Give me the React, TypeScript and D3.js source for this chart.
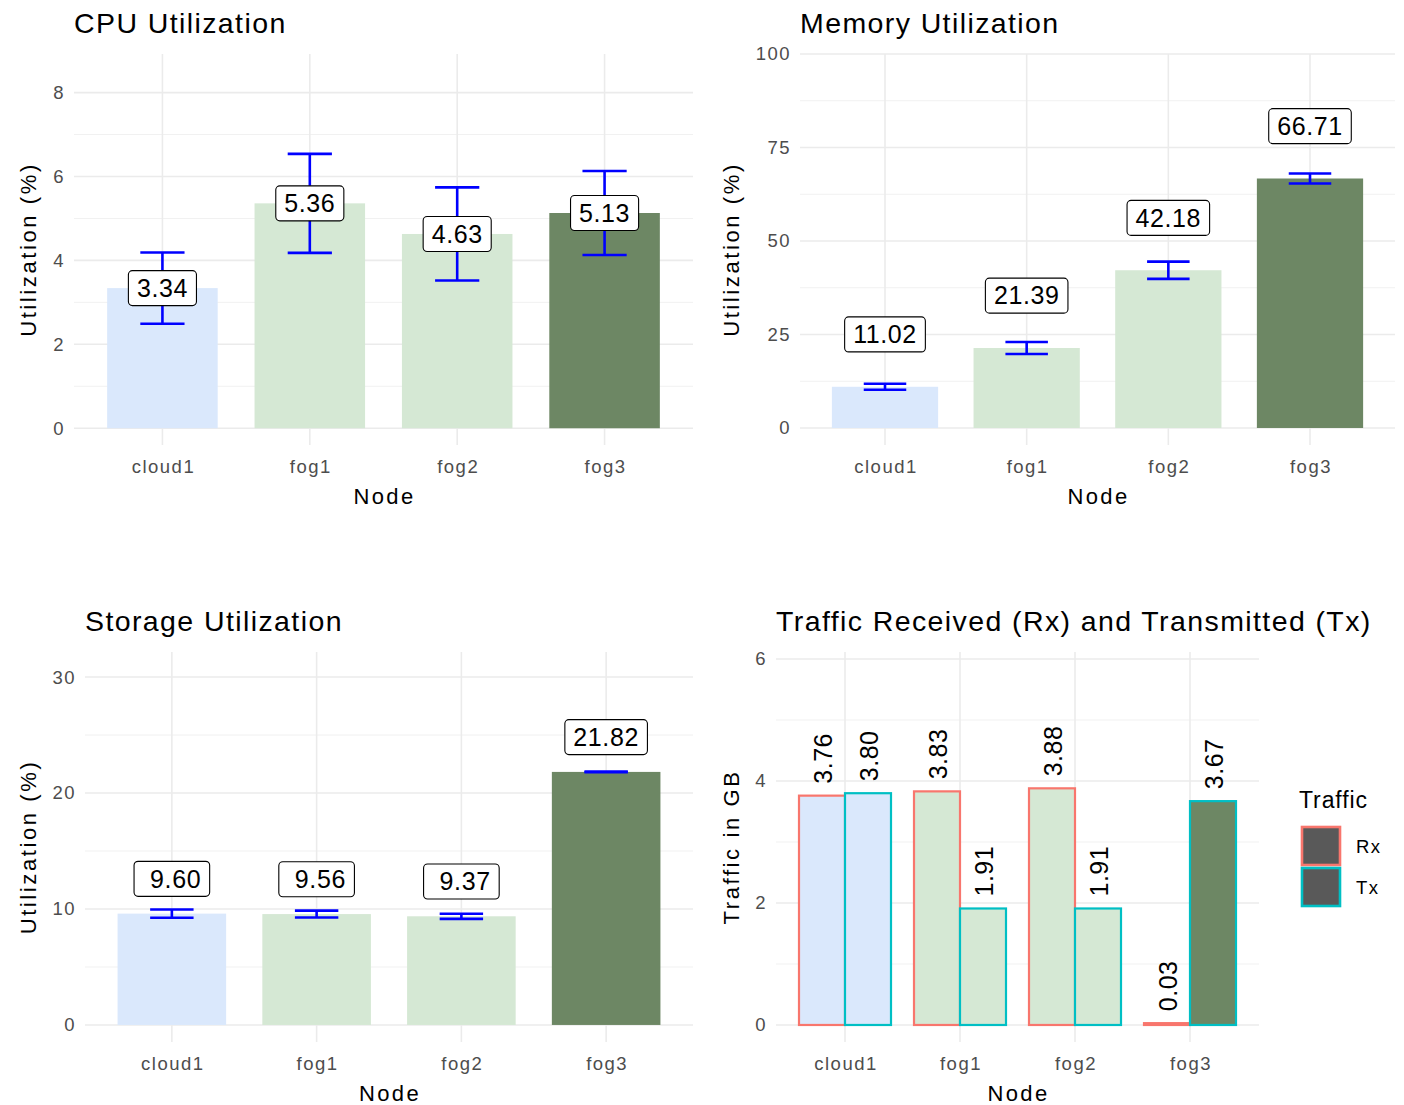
import React, { useEffect, useRef } from 'react';
import * as d3 from 'd3';

// categories and colours
const nodes = ['cloud1', 'fog1', 'fog2', 'fog3'];
const nodeFill = ['#dae8fc', '#d5e8d4', '#d5e8d4', '#6d8764'];

// CPU utilization (%) mean and standard deviation
const cpuMean = [3.34, 5.36, 4.63, 5.13];
const cpuSd = [0.85, 1.18, 1.11, 1.0];
// memory utilization (%)
const memMean = [11.02, 21.39, 42.18, 66.71];
const memSd = [0.8, 1.6, 2.3, 1.35];
// storage utilization (%)
const stoMean = [9.6, 9.56, 9.37, 21.82];
const stoSd = [0.35, 0.3, 0.22, 0.03];
// traffic in GB
const rxGB = [3.76, 3.83, 3.88, 0.03];
const txGB = [3.8, 1.91, 1.91, 3.67];
const trafficKeys = ['Rx', 'Tx'];
const trafficStroke = ['#F8766D', '#00BFC4'];

// tick labels
const cpuTicks = [0, 2, 4, 6, 8];
const memTicks = [0, 25, 50, 75, 100];
const stoTicks = [0, 10, 20, 30];
const trafficTicks = [0, 2, 4, 6];

const FONT = '"Liberation Sans", Arial, sans-serif';
const GRID = '#ebebeb';

type Panel = {
  left: number; right: number; top: number; bottom: number;
  domain: [number, number]; ticks: number[];
  title: string; yTitle: string; yTitleX: number;
};

function addText(g: any, x: number, y: number, s: string, size: number, opts: any = {}) {
  const t = g.append('text')
    .attr('x', x)
    .attr('y', y)
    .attr('dy', '0.35em')
    .attr('font-family', FONT)
    .attr('font-size', size)
    .attr('letter-spacing', opts.ls ?? 0)
    .attr('fill', opts.fill ?? '#000')
    .attr('text-anchor', opts.anchor ?? 'start')
    .style('white-space', 'pre')
    .text(s);
  if (opts.rotate) t.attr('transform', `rotate(-90, ${x}, ${y})`);
  return t;
}

function drawFrame(svg: any, p: Panel) {
  const x = d3.scaleBand<string>().domain(nodes).range([p.left, p.right]).paddingInner(0).paddingOuter(0.1);
  const y = d3.scaleLinear().domain(p.domain).range([p.bottom, p.top]);
  const g = svg.append('g');

  // minor grid at midpoints
  const minor = d3.pairs(p.ticks).map(([a, b]) => (a + b) / 2);
  g.selectAll('.minor').data(minor).enter().append('line')
    .attr('x1', p.left).attr('x2', p.right)
    .attr('y1', (d: number) => y(d)).attr('y2', (d: number) => y(d))
    .attr('stroke', '#f1f1f1').attr('stroke-width', 1);
  g.selectAll('.major').data(p.ticks).enter().append('line')
    .attr('x1', p.left).attr('x2', p.right)
    .attr('y1', (d: number) => y(d)).attr('y2', (d: number) => y(d))
    .attr('stroke', GRID).attr('stroke-width', 1.6);
  g.selectAll('.vgrid').data(nodes).enter().append('line')
    .attr('x1', (d: string) => x(d)! + x.bandwidth() / 2)
    .attr('x2', (d: string) => x(d)! + x.bandwidth() / 2)
    .attr('y1', p.top).attr('y2', p.bottom)
    .attr('stroke', GRID).attr('stroke-width', 1.6);

  p.ticks.forEach(t => addText(g, p.left - 9, y(t), String(t), 18.5, { anchor: 'end', fill: '#4d4d4d', ls: 1.5 }));
  nodes.forEach(n => addText(g, x(n)! + x.bandwidth() / 2 + 1, p.bottom + 22, n, 18.5, { anchor: 'middle', fill: '#4d4d4d', ls: 1.5 }));

  addText(g, (p.left + p.right) / 2 + 1, p.bottom + 51, 'Node', 22, { anchor: 'middle', ls: 2.4 });
  addText(g, p.yTitleX, (p.top + p.bottom) / 2, p.yTitle, 22, { anchor: 'middle', ls: 2.6, rotate: true });
  addText(g, p.left, p.top - 31, p.title, 28.5, { ls: 1.4 });
  return { x, y };
}

function drawBarsWithErrors(svg: any, p: Panel, mean: number[], sd: number[], nudge: number, fmt: (v: number) => string) {
  const { x, y } = drawFrame(svg, p);
  const step = x.bandwidth();
  const cx = (i: number) => x(nodes[i])! + step / 2;
  const g = svg.append('g');
  g.selectAll('.bar').data(mean).enter().append('rect')
    .attr('x', (d: number, i: number) => cx(i) - step * 0.375)
    .attr('width', step * 0.75)
    .attr('y', (d: number) => y(d))
    .attr('height', (d: number) => y(0) - y(d))
    .attr('fill', (d: number, i: number) => nodeFill[i]);

  const eb = g.selectAll('.eb').data(mean).enter().append('g').attr('stroke', '#0000ff').attr('stroke-width', 2.6);
  eb.append('line')
    .attr('x1', (d: number, i: number) => cx(i)).attr('x2', (d: number, i: number) => cx(i))
    .attr('y1', (d: number, i: number) => y(d - sd[i])).attr('y2', (d: number, i: number) => y(d + sd[i]));
  [-1, 1].forEach(s => {
    eb.append('line')
      .attr('x1', (d: number, i: number) => cx(i) - step * 0.15).attr('x2', (d: number, i: number) => cx(i) + step * 0.15)
      .attr('y1', (d: number, i: number) => y(d + s * sd[i])).attr('y2', (d: number, i: number) => y(d + s * sd[i]));
  });

  mean.forEach((v, i) => {
    const lg = g.append('g');
    const cy = y(v + nudge);
    const t = addText(lg, cx(i), cy, fmt(v), 25, { anchor: 'middle', ls: 0.6 });
    const bb = (t.node() as SVGTextElement).getBBox();
    lg.insert('rect', 'text')
      .attr('x', bb.x - 8.5)
      .attr('width', bb.width + 17)
      .attr('y', cy - 17.5)
      .attr('height', 35)
      .attr('rx', 4)
      .attr('fill', '#fff')
      .attr('stroke', '#000')
      .attr('stroke-width', 1.1);
  });
}

function drawTraffic(svg: any, p: Panel) {
  const { x, y } = drawFrame(svg, p);
  const step = x.bandwidth();
  const sub = d3.scaleBand<string>().domain(trafficKeys).range([0, step * 0.8]);
  const series = [rxGB, txGB];
  const g = svg.append('g');
  series.forEach((vals, k) => {
    vals.forEach((v, i) => {
      const x0 = x(nodes[i])! + step * 0.1 + sub(trafficKeys[k])!;
      g.append('rect')
        .attr('x', x0)
        .attr('width', sub.bandwidth())
        .attr('y', y(v))
        .attr('height', y(0) - y(v))
        .attr('fill', nodeFill[i])
        .attr('stroke', trafficStroke[k])
        .attr('stroke-width', 2.2);
      addText(g, x0 + sub.bandwidth() / 2 + 1, y(v) - 12, v.toFixed(2), 25, { ls: 0.5, rotate: true });
    });
  });

  // legend
  const lg = svg.append('g');
  addText(lg, 1299, 800, 'Traffic', 23, { ls: 0.9 });
  trafficKeys.forEach((k, i) => {
    lg.append('rect')
      .attr('x', 1302)
      .attr('y', 827 + i * 41)
      .attr('width', 38)
      .attr('height', 38)
      .attr('fill', '#595959')
      .attr('stroke', trafficStroke[i])
      .attr('stroke-width', 2.6);
    addText(lg, 1356, 847 + i * 41, k, 18.5, { ls: 1.4 });
  });
}

export default function App() {
  const ref = useRef<SVGSVGElement>(null);
  useEffect(() => {
    const svg = d3.select(ref.current);
    svg.selectAll('*').remove();

    drawBarsWithErrors(svg, {
      left: 74, right: 693, top: 54, bottom: 445, domain: [-0.4, 8.92], ticks: cpuTicks,
      title: 'CPU Utilization', yTitle: 'Utilization (%)', yTitleX: 28,
    }, cpuMean, cpuSd, 0, v => v.toFixed(2));

    drawBarsWithErrors(svg, {
      left: 800, right: 1395, top: 54, bottom: 445, domain: [-4.55, 100], ticks: memTicks,
      title: 'Memory Utilization', yTitle: 'Utilization (%)', yTitleX: 731,
    }, memMean, memSd, 14, v => v.toFixed(2));

    drawBarsWithErrors(svg, {
      left: 85, right: 693, top: 652, bottom: 1042, domain: [-1.47, 32.16], ticks: stoTicks,
      title: 'Storage Utilization', yTitle: 'Utilization (%)', yTitleX: 28,
    }, stoMean, stoSd, 3, d3.format(' >5.2f'));

    drawTraffic(svg, {
      left: 776, right: 1259, top: 652, bottom: 1042, domain: [-0.279, 6.115], ticks: trafficTicks,
      title: 'Traffic Received (Rx) and Transmitted (Tx)', yTitle: 'Traffic in GB', yTitleX: 731,
    });
  }, []);

  return (
    <div style={{ position: 'absolute', left: 0, top: 0, background: '#fff' }}>
      <svg ref={ref} width={1404} height={1105} style={{ display: 'block' }} />
    </div>
  );
}
